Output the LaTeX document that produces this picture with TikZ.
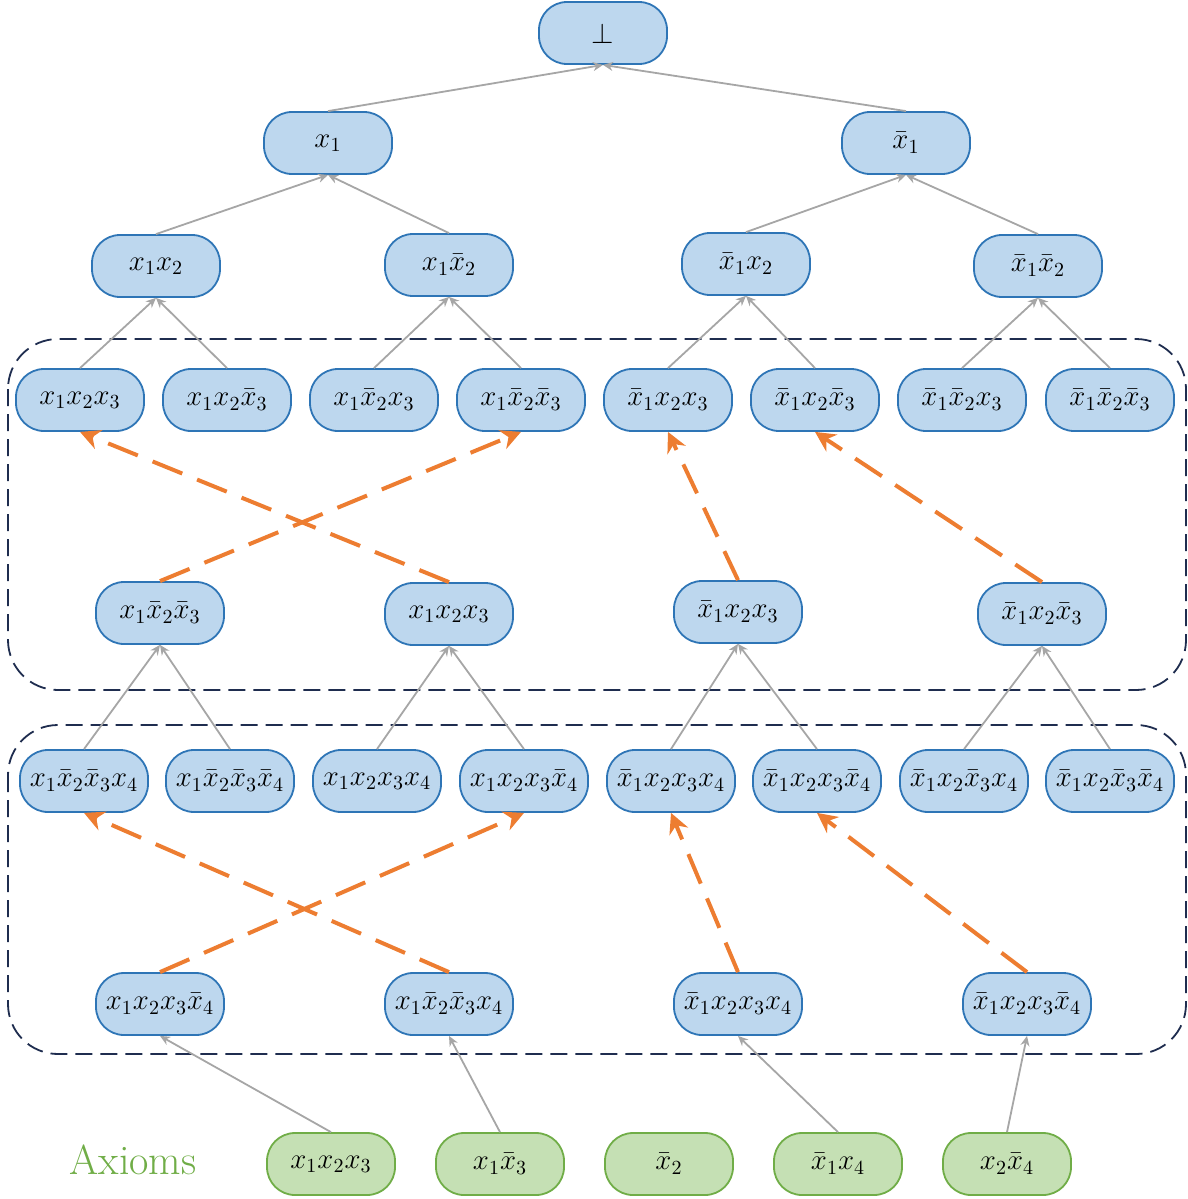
\documentclass[tikz,border=0pt]{standalone}
\usetikzlibrary{arrows.meta}
\definecolor{clausefill}{HTML}{BDD7EE}
\definecolor{clauseborder}{HTML}{2E75B6}
\definecolor{axiomfill}{HTML}{C5E0B4}
\definecolor{axiomborder}{HTML}{70AD47}
\definecolor{edgegray}{HTML}{A6A6A6}
\definecolor{fliporange}{HTML}{ED7D31}
\definecolor{boxnavy}{HTML}{1F2D4F}
\begin{document}
\begin{tikzpicture}[x=0.5pt, y=-0.5pt,
  clause/.style={draw=clauseborder, fill=clausefill, line width=0.9pt, rounded corners=14pt, minimum width=64pt, minimum height=31pt, inner sep=0pt, font=\fontsize{14}{16}\selectfont},
  axiom/.style={clause, draw=axiomborder, fill=axiomfill},
  res/.style={draw=edgegray, line width=0.9pt, -{Stealth[length=5pt,width=4.5pt]}},
  flip/.style={draw=fliporange, line width=2pt, dash pattern=on 16pt off 8pt, -{Stealth[length=10pt,width=10pt]}},
  region/.style={draw=boxnavy, line width=0.9pt, dash pattern=on 8.5pt off 4pt, rounded corners=25pt}]
\useasboundingbox (0,0) rectangle (1188,1199);
\draw[region] (8,339) rectangle (1186,690);
\draw[region] (8,725) rectangle (1186,1054);
\node[clause] (bot) at (603,33) {$\bot$};
\node[clause] (p) at (328,143) {$x_1$};
\node[clause] (n) at (906,143) {$\bar{x}_1$};
\node[clause] (pp) at (156,266) {$x_1x_2$};
\node[clause] (pn) at (449,265) {$x_1\bar{x}_2$};
\node[clause] (np) at (746,264) {$\bar{x}_1x_2$};
\node[clause] (nn) at (1038,266) {$\bar{x}_1\bar{x}_2$};
\node[clause] (ppp) at (80,400) {$x_1x_2x_3$};
\node[clause] (ppn) at (227,400) {$x_1x_2\bar{x}_3$};
\node[clause] (pnp) at (374,400) {$x_1\bar{x}_2x_3$};
\node[clause] (pnn) at (521,400) {$x_1\bar{x}_2\bar{x}_3$};
\node[clause] (npp) at (668,400) {$\bar{x}_1x_2x_3$};
\node[clause] (npn) at (815,400) {$\bar{x}_1x_2\bar{x}_3$};
\node[clause] (nnp) at (962,400) {$\bar{x}_1\bar{x}_2x_3$};
\node[clause] (nnn) at (1110,400) {$\bar{x}_1\bar{x}_2\bar{x}_3$};
\node[clause] (f-pnn) at (160,613) {$x_1\bar{x}_2\bar{x}_3$};
\node[clause] (f-ppp) at (449,614) {$x_1x_2x_3$};
\node[clause] (f-npp) at (738,612) {$\bar{x}_1x_2x_3$};
\node[clause] (f-npn) at (1042,614) {$\bar{x}_1x_2\bar{x}_3$};
\node[clause] (pnnp) at (84,781) {$x_1\bar{x}_2\bar{x}_3x_4$};
\node[clause] (pnnn) at (230,781) {$x_1\bar{x}_2\bar{x}_3\bar{x}_4$};
\node[clause] (pppp) at (377,781) {$x_1x_2x_3x_4$};
\node[clause] (pppn) at (524,781) {$x_1x_2x_3\bar{x}_4$};
\node[clause] (nppp) at (671,781) {$\bar{x}_1x_2x_3x_4$};
\node[clause] (nppn) at (817,781) {$\bar{x}_1x_2x_3\bar{x}_4$};
\node[clause] (npnp) at (964,781) {$\bar{x}_1x_2\bar{x}_3x_4$};
\node[clause] (npnn) at (1110,781) {$\bar{x}_1x_2\bar{x}_3\bar{x}_4$};
\node[clause] (f-pppn) at (160,1004) {$x_1x_2x_3\bar{x}_4$};
\node[clause] (f-pnnp) at (449,1004) {$x_1\bar{x}_2\bar{x}_3x_4$};
\node[clause] (f-nppp) at (738,1004) {$\bar{x}_1x_2x_3x_4$};
\node[clause] (f-nppn) at (1027,1004) {$\bar{x}_1x_2x_3\bar{x}_4$};
\node[text=axiomborder, font=\fontsize{21}{24}\selectfont] (axioms) at (133,1160) {Axioms};
\node[axiom] (ax1) at (331,1164) {$x_1x_2x_3$};
\node[axiom] (ax2) at (500,1164) {$x_1\bar{x}_3$};
\node[axiom] (ax3) at (669,1164) {$\bar{x}_2$};
\node[axiom] (ax4) at (838,1164) {$\bar{x}_1x_4$};
\node[axiom] (ax5) at (1007,1164) {$x_2\bar{x}_4$};
\foreach \c/\p in {p/bot, n/bot, pp/p, pn/p, np/n, nn/n,
    ppp/pp, ppn/pp, pnp/pn, pnn/pn, npp/np, npn/np, nnp/nn, nnn/nn,
    pnnp/f-pnn, pnnn/f-pnn, pppp/f-ppp, pppn/f-ppp, nppp/f-npp, nppn/f-npp, npnp/f-npn, npnn/f-npn,
    ax1/f-pppn, ax2/f-pnnp, ax4/f-nppp, ax5/f-nppn}
  \draw[res] (\c.north) -- (\p.south);
\foreach \c/\p in {f-pnn/pnn, f-ppp/ppp, f-npp/npp, f-npn/npn,
    f-pppn/pppn, f-pnnp/pnnp, f-nppp/nppp, f-nppn/nppn}
  \draw[flip] (\c.north) -- (\p.south);
\end{tikzpicture}
\end{document}
